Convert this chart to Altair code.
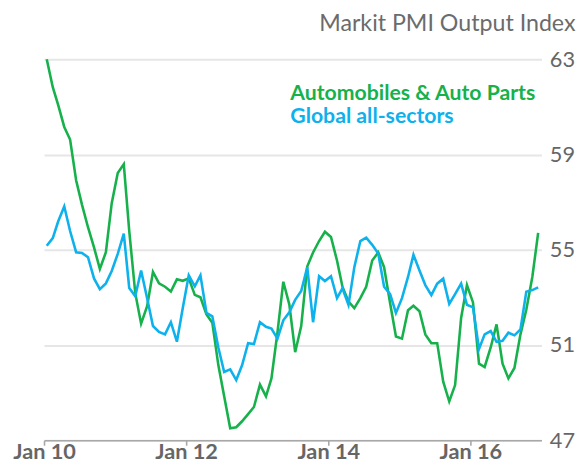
import altair as alt
import pandas as pd

months = [d.strftime("%Y-%m-15") for d in pd.date_range("2010-01-01", periods=84, freq="MS")]

auto_parts = [
    63.0, 61.83, 61.08, 60.16, 59.63, 57.92, 56.9, 55.95, 55.1, 54.2, 54.9, 56.96,
    58.23, 58.6, 55.8, 53.18, 51.9, 52.63, 54.07, 53.59, 53.45, 53.25, 53.76, 53.7,
    53.8, 53.11, 53.01, 52.29, 51.94, 50.16, 48.85, 47.51, 47.55, 47.8, 48.1, 48.4,
    49.34, 48.85, 49.6, 51.53, 53.66, 52.7, 50.7, 51.8, 54.3, 54.89, 55.37, 55.76,
    55.54, 54.55, 53.45, 52.83, 52.55, 52.97, 53.45, 54.55, 54.89, 54.27, 52.76, 51.36,
    51.27, 52.46, 52.65, 52.42, 51.45, 51.08, 51.08, 49.46, 48.63, 49.32, 52.14, 53.52,
    52.79, 50.22, 50.08, 50.9, 51.87, 50.22, 49.6, 50.04, 51.45, 52.48, 53.86, 55.71,
]

global_all = [
    55.17, 55.49, 56.2, 56.82, 55.79, 54.9, 54.87, 54.69, 53.8, 53.35, 53.59, 54.11,
    54.83, 55.68, 53.4, 53.05, 54.13, 52.97, 51.8, 51.55, 51.45, 51.96, 51.14, 52.55,
    53.93, 53.47, 53.93, 52.35, 52.21, 50.9, 49.87, 49.98, 49.53, 50.15, 51.08, 51.04,
    51.96, 51.77, 51.69, 51.27, 52.04, 52.38, 52.9, 53.27, 54.27, 51.96, 53.89, 53.69,
    53.89, 52.97, 53.38, 52.69, 54.27, 55.37, 55.51, 55.21, 54.85, 53.45, 53.14, 52.35,
    52.97, 53.86, 54.79, 54.13, 53.52, 53.1, 53.58, 53.79, 52.73, 53.14, 53.58, 52.69,
    52.59, 50.84, 51.45, 51.59, 51.14, 51.18, 51.52, 51.41, 51.66, 53.24, 53.31, 53.42,
]

series_names = ["Automobiles & Auto Parts", "Global all-sectors"]
series_colors = ["#17b14b", "#0db1ec"]
y_ticks = [47, 51, 55, 59, 63]
x_tick_years = [2010, 2012, 2014, 2016]
unit_label = "Markit PMI Output Index"

FONT = "Lato"

rows = []
for name, vals in zip(series_names, [auto_parts, global_all]):
    for m, v in zip(months, vals):
        rows.append({"month": m, "value": v, "series": name})
df = pd.DataFrame(rows)

x_scale = alt.Scale(
    type="utc",
    domain=[alt.DateTime(year=2010, month=1, date=1, utc=True),
            alt.DateTime(year=2017, month=1, date=1, utc=True)],
    nice=False,
)

lines = alt.Chart(df).mark_line(strokeWidth=2.6, strokeJoin="miter").encode(
    x=alt.X(
        "month:T",
        scale=x_scale,
        axis=alt.Axis(
            values=[alt.DateTime(year=y, month=1, date=1, utc=True) for y in x_tick_years],
            labelExpr="'Jan ' + utcFormat(datum.value, '%y')",
            title=None,
            grid=False,
            domainColor="#a8a8a8",
            domainWidth=1.6,
            tickColor="#a8a8a8",
            tickWidth=1.6,
            tickSize=5,
            labelFont=FONT,
            labelFontSize=22,
            labelFontWeight="bold",
            labelColor="#666666",
            labelBaseline="alphabetic",
            labelPadding=13,
            labelFlush=False,
        ),
    ),
    y=alt.Y(
        "value:Q",
        scale=alt.Scale(domain=[47, 63], nice=False, zero=False),
        axis=alt.Axis(
            orient="right",
            values=y_ticks,
            title=None,
            domain=False,
            ticks=False,
            gridColor="#e6e6e6",
            gridWidth=2,
            labelFont=FONT,
            labelFontSize=22,
            labelColor="#666666",
            labelPadding=8,
            labelBaseline="middle",
        ),
    ),
    color=alt.Color("series:N", scale=alt.Scale(domain=series_names, range=series_colors), legend=None),
)

legend_df = pd.DataFrame({"label": series_names, "color": series_colors, "row": [0, 1]})
legend_a = alt.Chart(legend_df).transform_filter("datum.row == 0").mark_text(
    align="left", baseline="alphabetic", font=FONT, fontSize=21.5, fontWeight="bold"
).encode(
    text="label:N",
    color=alt.Color("color:N", scale=None),
    x=alt.value(249.5),
    y=alt.value(41),
)
legend_b = alt.Chart(legend_df).transform_filter("datum.row == 1").mark_text(
    align="left", baseline="alphabetic", font=FONT, fontSize=21.5, fontWeight="bold"
).encode(
    text="label:N",
    color=alt.Color("color:N", scale=None),
    x=alt.value(249.5),
    y=alt.value(65),
)

unit_df = pd.DataFrame({"t": [unit_label]})
unit_text = alt.Chart(unit_df).mark_text(
    align="right", baseline="alphabetic", font=FONT, fontSize=23.5, color="#6b6b6b"
).encode(
    text="t:N",
    x=alt.value(538.5),
    y=alt.value(-29),
)

chart = alt.layer(lines, legend_a, legend_b, unit_text).properties(
    width=504,
    height=386,
    autosize=alt.AutoSizeParams(type="none"),
    padding={"left": 36.5, "top": 49, "right": 36, "bottom": 23},
).configure_view(stroke=None)

chart.save("out.html", embed_options={"renderer": "svg", "actions": False})
